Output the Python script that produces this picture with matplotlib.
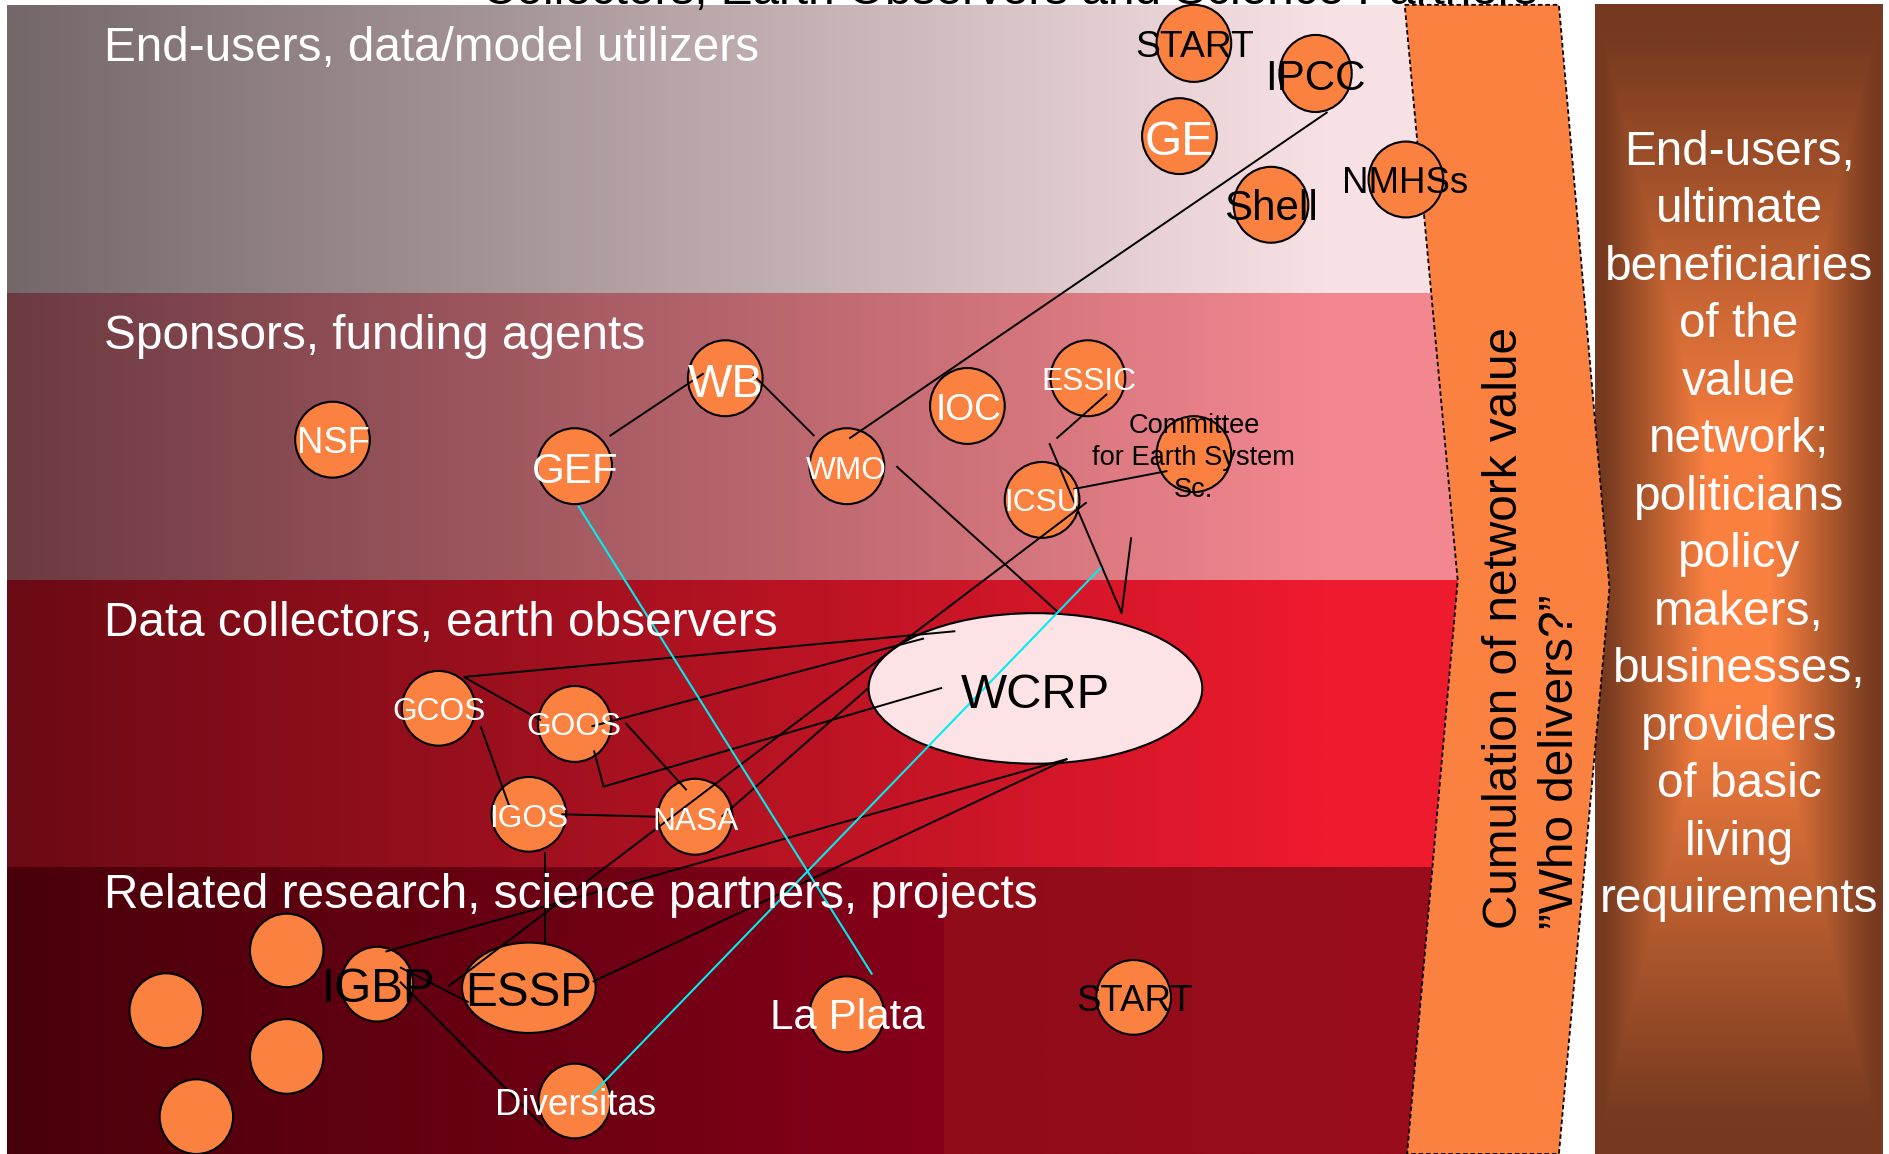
import numpy as np
import matplotlib
matplotlib.use('Agg')
import matplotlib.pyplot as plt
from matplotlib.patches import Ellipse, Polygon
from matplotlib.colors import to_rgb

plt.rcParams['font.family'] = ['Liberation Sans', 'DejaVu Sans']

# ---------------- data ----------------
W, H = 1568, 958

title_text = "Collectors, Earth Observers and Science Partners"

band_labels = ["End-users, data/model utilizers",
               "Sponsors, funding agents",
               "Data collectors, earth observers",
               "Related research, science partners, projects"]
band_tops = [4.5, 243, 482, 720]
band_bottoms = [243, 482, 720, 958]
band_left_colors = ['#74676a', '#6c3a41', '#6b0a14', '#48000a']
band_right_colors = ['#f8e1e4', '#f3878f', '#ee1a2e', '#86001a']
band_label_baselines = [51, 290, 528, 754]

# circles (nodes)
circle_x = [991, 1092, 979, 1055, 1167, 276, 602, 477, 803, 903, 703, 865, 991,
            859.5, 364, 477, 439, 577, 313, 439, 238, 138, 238, 163, 477, 703, 941]
circle_y = [36, 61, 113, 170, 149, 365, 314, 387, 337, 314, 387, 415, 377,
            571.5, 588, 601, 676, 678, 817, 820, 789, 839, 877, 927, 914, 842, 828]
circle_w = [62, 60, 62, 62, 62, 62, 62, 62, 62, 62, 62, 62, 62,
            277, 61, 61, 62, 62, 60, 111, 61, 61, 61, 61, 60, 62, 62]
circle_h = [64, 64, 63, 63, 63, 63, 63, 63, 63, 63, 63, 63, 63,
            125, 62, 63, 62, 63, 62, 75, 61, 62, 62, 62, 62, 63, 62]
circle_fill = ['#fb8141'] * 13 + ['#fde3e6'] + ['#fb8141'] * 13

# labels
label_text = ['START', 'IPCC', 'GE', 'Shell', 'NMHSs', 'NSF', 'WB', 'GEF', 'IOC',
              'ESSIC', 'WMO', 'ICSU', 'WCRP', 'GCOS', 'GOOS', 'IGOS', 'NASA',
              'IGBP', 'ESSP', 'Diversitas', 'La Plata', 'START']
label_x = [992, 1092, 979, 1055, 1166.5, 276.5, 602, 477.5, 804, 903.5, 702.6, 865,
           859.6, 364, 476.6, 439, 577.7, 314, 438.7, 477.6, 703, 941.5]
label_y = [36, 62.5, 114.5, 170.5, 149, 365, 315.7, 388.6, 337.5, 314.6, 388, 414.5,
           573, 588.6, 601, 677, 680, 817.5, 821, 915, 842, 828.4]
label_size = [26.8, 30.3, 34.5, 30.3, 26.4, 26.2, 33.8, 30.3, 26.8, 22.8, 22.8, 22.8,
              35.2, 22.8, 22.8, 22.8, 22.8, 34.3, 34.3, 26.4, 30.3, 26.4]
label_color = ['black', 'black', 'white', 'black', 'black', 'white', 'white', 'white',
               'white', 'white', 'white', 'white', 'black', 'white', 'white', 'white',
               'white', 'black', 'black', 'white', 'white', 'black']

committee_lines = ["Committee", "for Earth System", "Sc."]
committee_baselines = [359.5, 386, 412.5]
committee_x = 991

# connection lines
black_lines = [
    [(1102, 93), (705, 364)],
    [(584, 310), (506, 362)],
    [(625, 311), (676, 362)],
    [(919, 327), (877, 364)],
    [(871, 368), (931, 509), (939, 446)],
    [(891, 406), (969, 391)],
    [(744, 387), (878, 508)],
    [(902, 417), (372, 819)],
    [(385, 562), (793, 524)],
    [(385, 562), (449, 598)],
    [(491, 603), (767, 530)],
    [(493, 623), (501, 653), (782, 571)],
    [(519, 600), (570, 656)],
    [(399, 603), (423, 670)],
    [(466, 676), (546, 678)],
    [(452, 707), (452, 783)],
    [(599, 678), (721, 571)],
    [(886, 630), (320, 790)],
    [(886, 630), (492, 815)],
    [(332, 803), (389, 832)],
    [(332, 815), (451, 935)],
]
cyan_lines = [
    [(480, 420), (724, 809)],
    [(491, 909), (914, 471)],
]

# cumulation band (chevron)
band_poly = [(1166, 4), (1294, 4), (1336, 488), (1294, 958), (1168, 958), (1210, 482)]
vertical_texts = ["Cumulation of network value", "\u201dWho delivers?\u201d"]
vertical_baseline_x = [1259, 1306]
vertical_start_y = 771

# right box
box_lines = ["End-users,", "ultimate", "beneficiaries", "of the", "value", "network;",
             "politicians", "policy", "makers,", "businesses,", "providers",
             "of basic", "living", "requirements"]
box_x0, box_x1, box_y0, box_y1 = 1324, 1563, 4, 958

# ---------------- drawing ----------------
fig = plt.figure(figsize=(18.89, 11.54), dpi=100)
ax = fig.add_axes([0, 0, 1, 1])
ax.set_facecolor('white')
fig.patch.set_facecolor('white')

def hgrad(c0, c1, n=256):
    a = np.array(to_rgb(c0)); b = np.array(to_rgb(c1))
    t = np.linspace(0, 1, n)[:, None]
    return (a + (b - a) * t)[None, :, :]

band_x0, band_x1 = 6, 1235
for i in range(4):
    if i < 3:
        ax.imshow(hgrad(band_left_colors[i], band_right_colors[i]), aspect='auto',
                  extent=(band_x0, 1100, band_bottoms[i], band_tops[i]),
                  interpolation='bilinear', zorder=1)
        ax.imshow(hgrad(band_right_colors[i], band_right_colors[i], 2), aspect='auto',
                  extent=(1099, band_x1, band_bottoms[i], band_tops[i]), zorder=1)
    else:
        ax.imshow(hgrad(band_left_colors[i], band_right_colors[i]), aspect='auto',
                  extent=(band_x0, 784, band_bottoms[i], band_tops[i]),
                  interpolation='bilinear', zorder=1)
        ax.imshow(hgrad('#900c19', '#9b0c1c'), aspect='auto',
                  extent=(784, band_x1, band_bottoms[i], band_tops[i]),
                  interpolation='bilinear', zorder=1)
    ax.text(86, band_label_baselines[i], band_labels[i], color='white', fontsize=34.4,
            ha='left', va='baseline', zorder=10)

# cumulation band
ax.add_patch(Polygon(band_poly, closed=True, facecolor='#fb8141', edgecolor='black',
                     linewidth=1.3, linestyle=(0, (2.5, 1.6)), zorder=3))
for t, bx in zip(vertical_texts, vertical_baseline_x):
    ax.text(bx, vertical_start_y, t, rotation=90, rotation_mode='anchor', ha='left',
            va='baseline', fontsize=34.4, color='black', zorder=10)

# right box gradient
nx, ny = 240, 400
U, V = np.meshgrid(np.linspace(-1, 1, nx), np.linspace(-1, 1, ny))
T = np.maximum(np.abs(U), np.abs(V))
T = np.clip((T - 0.22) / 0.72, 0, 1)
orange = np.array(to_rgb('#fa8040')); brown = np.array(to_rgb('#763a1f'))
img = orange[None, None, :] + (brown - orange)[None, None, :] * T[:, :, None]
ax.imshow(img, aspect='auto', extent=(box_x0, box_x1, box_y1, box_y0),
          interpolation='bilinear', zorder=2)
box_cx = (box_x0 + box_x1) / 2
for i, line in enumerate(box_lines):
    ax.text(box_cx, 137 + i * 47.7, line, color='white', fontsize=34.4, ha='center',
            va='baseline', zorder=10)

# nodes
for x, y, w, h, fc in zip(circle_x, circle_y, circle_w, circle_h, circle_fill):
    ax.add_patch(Ellipse((x, y), w, h, facecolor=fc, edgecolor='black', linewidth=1.5,
                         zorder=5))

# lines
for pts in black_lines:
    xs, ys = zip(*pts)
    ax.plot(xs, ys, color='black', linewidth=1.4, zorder=6, solid_capstyle='butt')
for pts in cyan_lines:
    xs, ys = zip(*pts)
    ax.plot(xs, ys, color='#00eef0', linewidth=1.5, zorder=6, solid_capstyle='butt')

# labels
em_per_pt = (100 / 72) / (1889 / W)
for t, x, y, s, c in zip(label_text, label_x, label_y, label_size, label_color):
    ax.text(x, y + 0.358 * em_per_pt * s, t, color=c, fontsize=s, ha='center',
            va='baseline', zorder=8)
for line, yb in zip(committee_lines, committee_baselines):
    ax.text(committee_x, yb, line, color='black', fontsize=19.6, ha='center',
            va='baseline', zorder=8)

# title, clipped at the very top as in the original slide
ax.text(838.5, 3.5, title_text, color='black', fontsize=34.4, ha='center',
        va='baseline', zorder=10)

ax.set_xlim(0, W)
ax.set_ylim(H, 0)
ax.axis('off')
fig.savefig('out.png', dpi=100, facecolor='white')
